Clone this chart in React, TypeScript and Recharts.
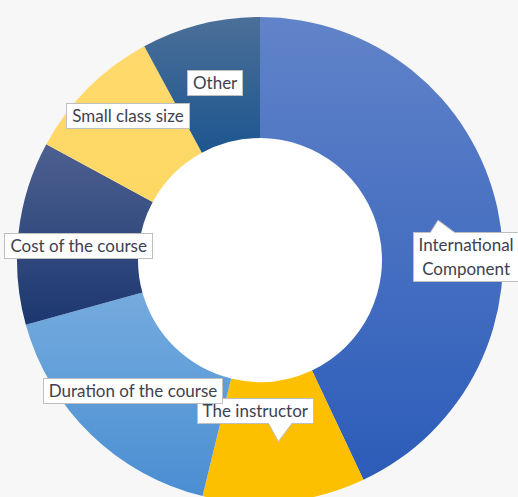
import { PieChart, Pie, Cell } from "recharts";

// Motivos elegidos por los participantes (% de respuestas), en orden horario desde las 12.
const CATEGORIAS = [
  "International\nComponent",
  "The instructor",
  "Duration of the course",
  "Cost of the course",
  "Small class size",
  "Other",
];
const VALORES = [43.0, 10.8, 16.9, 12.2, 9.2, 7.9];

// Degradado vertical de cada porción: [arriba, abajo]
const DEGRADADOS: [string, string][] = [
  ["#6183c9", "#2c5cb9"],
  ["#fec000", "#fcc000"],
  ["#74abde", "#4a8ed2"],
  ["#4d6190", "#1c3770"],
  ["#ffd96b", "#fed864"],
  ["#4b6f98", "#1d568f"],
];

// Las etiquetas van en el medio del anillo; algunas Excel las corre y les pone flecha.
const AJUSTE: Record<number, { dx: number; dy: number; flecha?: "abajo" | "arriba" }> = {
  0: { dx: 28, dy: 37, flecha: "arriba" },
  1: { dx: -23, dy: -31, flecha: "abajo" },
  3: { dx: 0, dy: 7 },
  4: { dx: -3, dy: -15 },
};

const RAD = Math.PI / 180;
const BORDE = "#bfbfbf";

const datos = CATEGORIAS.map((name, i) => ({ name, value: VALORES[i] }));

function Etiqueta(props: any) {
  const { cx, cy, midAngle, innerRadius, outerRadius, index, name } = props;
  const r = (innerRadius + outerRadius) / 2;
  const px = cx + r * Math.cos(-midAngle * RAD);
  const py = cy + r * Math.sin(-midAngle * RAD);
  const aj = AJUSTE[index] ?? { dx: 0, dy: 0 };
  const x = px + aj.dx;
  const y = py + aj.dy;
  const lineas = String(name).split("\n").length;
  const alto = lineas * 24 + 2;

  let flecha = null;
  if (aj.flecha === "abajo") {
    const base = y + alto / 2 - 1;
    flecha = (
      <g>
        <polygon points={`${px - 10},${base} ${px},${py} ${px + 14},${base}`} fill="#fff" />
        <polyline points={`${px - 10},${base + 0.5} ${px},${py} ${px + 14},${base + 0.5}`} fill="none" stroke={BORDE} />
      </g>
    );
  } else if (aj.flecha === "arriba") {
    const base = y - alto / 2 + 1;
    flecha = (
      <g>
        <polygon points={`${px - 8},${base} ${px},${py} ${px + 17},${base}`} fill="#fff" />
        <polyline points={`${px - 8},${base - 0.5} ${px},${py} ${px + 17},${base - 0.5}`} fill="none" stroke={BORDE} />
      </g>
    );
  }

  return (
    <g>
      <foreignObject x={x - 130} y={y - alto / 2} width={260} height={alto}>
        <div
          style={{
            display: "flex",
            justifyContent: "center",
            alignItems: "center",
            height: "100%",
          }}
        >
          <div
            style={{
              background: "#fff",
              border: `1px solid ${BORDE}`,
              padding: "0 5px",
              fontFamily: "Lato, 'Open Sans', sans-serif",
              fontSize: 17,
              lineHeight: "24px",
              color: "#3d4250",
              textAlign: "center",
              whiteSpace: "pre",
            }}
          >
            {name}
          </div>
        </div>
      </foreignObject>
      {flecha}
    </g>
  );
}

export default function App() {
  return (
    <div
      style={{
        position: "absolute",
        left: 0,
        top: 0,
        width: 518,
        height: 497,
        background: "#f7f7f7",
        overflow: "hidden",
      }}
    >
      <PieChart width={518} height={497} margin={{ top: 0, right: 0, bottom: 0, left: 0 }}>
        <defs>
          {DEGRADADOS.map(([a, b], i) => (
            <linearGradient key={i} id={`deg${i}`} x1="0" y1="0" x2="0" y2="1">
              <stop offset="0%" stopColor={a} />
              <stop offset="100%" stopColor={b} />
            </linearGradient>
          ))}
        </defs>
        <Pie
          data={[{ name: "hueco", value: 1 }]}
          dataKey="value"
          cx={260}
          cy={260}
          innerRadius={0}
          outerRadius={122}
          fill="#ffffff"
          stroke="none"
          isAnimationActive={false}
        />
        <Pie
          data={datos}
          dataKey="value"
          nameKey="name"
          cx={260}
          cy={260}
          innerRadius={122}
          outerRadius={243}
          startAngle={90}
          endAngle={-270}
          stroke="none"
          label={Etiqueta}
          labelLine={false}
          isAnimationActive={false}
        >
          {datos.map((_, i) => (
            <Cell key={i} fill={`url(#deg${i})`} />
          ))}
        </Pie>
      </PieChart>
    </div>
  );
}
